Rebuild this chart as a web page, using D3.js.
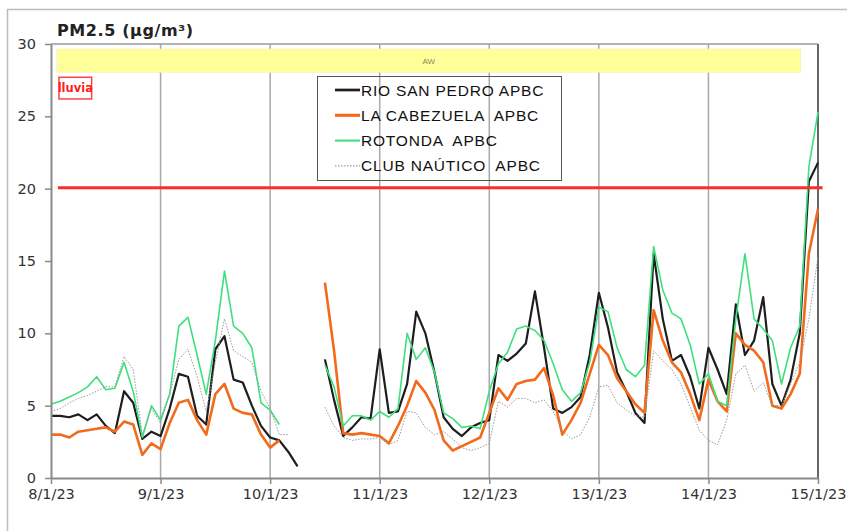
<!DOCTYPE html>
<html>
<head>
<meta charset="utf-8">
<script src="https://cdn.jsdelivr.net/npm/d3@7"></script>
<style>
  body { margin: 0; background: #fff; }
  svg { display: block; }
  .tick-label { font-family: "DejaVu Sans", Verdana, sans-serif; font-size: 14.5px; fill: #333; }
  .legend-label { font-family: "Liberation Sans", Arial, sans-serif; font-size: 15.5px; letter-spacing: 0.8px; fill: #111; white-space: pre; }
</style>
</head>
<body>
<svg id="chart" width="847" height="531"></svg>
<script>
// hours since 8/1/23 00:00, one reading every 2 h
var hours = d3.range(0, 169, 2);
var dayLabels = ["8/1/23", "9/1/23", "10/1/23", "11/1/23", "12/1/23", "13/1/23", "14/1/23", "15/1/23"];
var yTicks = [0, 5, 10, 15, 20, 25, 30];
var limitValue = 20;

var rioSanPedro = [
  4.3, 4.3, 4.2, 4.4, 4.0, 4.4, 3.6, 3.1, 6.0, 5.2, 2.7, 3.2, 2.9,
  4.8, 7.2, 7.0, 4.3, 3.7, 8.9, 9.8, 6.8, 6.6, 5.0, 3.6, 2.8,
  2.6, 1.8, 0.8, null, null, 8.2, 5.4, 2.9, 3.5, 4.2, 4.1, 8.9,
  4.5, 4.6, 6.5, 11.5, 10.0, 7.3, 4.2, 3.4, 2.9, 3.5, 3.8, 4.0,
  8.5, 8.1, 8.6, 9.3, 12.9, 9.0, 4.8, 4.5, 4.9, 5.6, 8.5, 12.8,
  10.4, 7.3, 6.0, 4.5, 3.8, 15.5, 11.0, 8.1, 8.5, 7.0, 4.8, 9.0,
  7.5, 5.8, 12.0, 8.5, 9.5, 12.5, 6.5, 5.0, 6.8, 10.0, 20.5, 21.8
];
var laCabezuela = [
  3.0, 3.0, 2.8, 3.2, 3.3, 3.4, 3.5, 3.2, 3.9, 3.7, 1.6, 2.4, 2.0,
  3.8, 5.2, 5.4, 4.0, 3.0, 5.8, 6.5, 4.8, 4.5, 4.4, 3.0, 2.1,
  2.6, null, null, null, null, 13.5, 8.8, 3.1, 3.0, 3.1, 3.0, 2.9,
  2.4, 3.6, 5.0, 6.7, 5.9, 4.7, 2.6, 1.9, 2.2, 2.5, 2.8, 4.5,
  6.2, 5.4, 6.5, 6.7, 6.8, 7.6, 5.7, 3.0, 4.0, 5.2, 7.2, 9.2,
  8.5, 6.9, 6.0, 5.1, 4.5, 11.6, 9.5, 8.0, 7.3, 5.8, 4.0, 6.8,
  5.3, 4.6, 10.0, 9.2, 8.8, 8.0, 5.0, 4.8, 5.8, 7.2, 15.5, 18.6
];
var rotonda = [
  5.1, 5.3, 5.6, 5.9, 6.3, 7.0, 6.1, 6.2, 8.0, 6.0, 2.8, 5.0, 4.0,
  5.8, 10.5, 11.1, 8.5, 5.8, 9.5, 14.3, 10.5, 10.0, 9.0, 5.2, 4.7,
  3.7, null, null, null, null, 7.8, 6.3, 3.6, 4.3, 4.3, 4.0, 4.6,
  4.2, 4.8, 10.0, 8.2, 9.0, 7.3, 4.5, 4.1, 3.5, 3.6, 3.4, 6.0,
  7.9, 8.7, 10.3, 10.5, 10.2, 9.5, 7.9, 6.1, 5.3, 5.9, 8.0, 11.8,
  11.5, 9.0, 7.5, 7.0, 7.8, 16.0, 13.0, 11.4, 11.0, 9.2, 6.5, 7.2,
  5.3, 5.0, 11.0, 15.5, 11.0, 10.3, 9.5, 6.5, 9.0, 10.5, 21.5, 25.3
];
var clubNautico = [
  4.6, 4.8, 5.2, 5.5, 5.7, 6.0, 6.3, 6.3, 8.4, 7.5, 3.0, 4.8, 3.8,
  5.8, 8.2, 8.9, 7.0, 4.6, 8.0, 11.0, 8.8, 8.4, 8.0, 6.0, 4.8,
  3.0, 3.0, null, null, null, 4.9, 3.6, 2.8, 2.6, 2.7, 2.7, 2.8,
  2.3, 2.6, 4.6, 4.5, 3.5, 3.0, 3.2, 2.7, 2.1, 1.9, 2.1, 2.4,
  5.3, 4.9, 5.5, 5.5, 5.2, 5.4, 4.6, 3.3, 2.7, 3.0, 4.2, 6.3,
  6.4, 5.2, 4.7, 4.3, 4.2, 8.8, 8.1, 7.5, 6.5, 4.9, 3.3, 2.6,
  2.3, 4.0, 7.2, 7.8, 6.0, 6.6, 5.0, 5.0, 6.5, 8.0, 11.0, 15.3
];

var series = [
  {name: "RIO SAN PEDRO APBC", values: rioSanPedro, color: "#1e1e1e", width: 2.2, dash: null},
  {name: "LA CABEZUELA  APBC", values: laCabezuela, color: "#f26a1b", width: 2.6, dash: null},
  {name: "ROTONDA  APBC", values: rotonda, color: "#3ee07e", width: 1.6, dash: null},
  {name: "CLUB NAÚTICO  APBC", values: clubNautico, color: "#9a9a9a", width: 1, dash: "1.5,1.5"}
];

var svg = d3.select("#chart");
var plot = {left: 51, right: 818, top: 44, bottom: 478};

var x = d3.scaleLinear().domain([0, 168]).range([plot.left, plot.right]);
var y = d3.scaleLinear().domain([0, 30]).range([plot.bottom, plot.top]);

//Outer frame
svg.append("rect")
  .attr("x", 7.5).attr("y", 9.5)
  .attr("width", 900).attr("height", 600)
  .style("fill", "none").style("stroke", "#bdbdbd").style("stroke-width", 1.5);

//Title
svg.append("text")
  .attr("x", 57).attr("y", 36)
  .style("font-family", "DejaVu Sans, Verdana, sans-serif")
  .style("font-weight", "bold")
  .style("font-size", "16px")
  .style("letter-spacing", "0.6px")
  .style("fill", "#222")
  .text("PM2.5 (µg/m³)");

//Vertical day gridlines
svg.selectAll(".grid")
  .data(dayLabels.slice(1, -1))
  .enter().append("line")
  .attr("x1", function(d, i){ return x((i + 1) * 24); })
  .attr("x2", function(d, i){ return x((i + 1) * 24); })
  .attr("y1", plot.top).attr("y2", plot.bottom)
  .style("stroke", "#a8a8a8").style("stroke-width", 1.5);

//Plot frame: top, right
svg.append("line").attr("x1", plot.left).attr("x2", plot.right).attr("y1", plot.top).attr("y2", plot.top)
  .style("stroke", "#9a9a9a").style("stroke-width", 1.5);
svg.append("line").attr("x1", plot.right).attr("x2", plot.right).attr("y1", plot.top).attr("y2", plot.bottom)
  .style("stroke", "#666").style("stroke-width", 2);

//AW band
svg.append("rect")
  .attr("x", x(1.3)).attr("y", y(29.65))
  .attr("width", x(164.2) - x(1.3)).attr("height", y(28.05) - y(29.65))
  .style("fill", "#ffff99").style("stroke", "#f1f1c0").style("stroke-width", 0.8);
svg.append("text")
  .attr("x", (x(1.3) + x(164.2)) / 2).attr("y", y(28.85) + 3)
  .attr("text-anchor", "middle")
  .style("font-family", "Liberation Sans, Arial, sans-serif")
  .style("font-size", "8px").style("fill", "#8a8a50")
  .text("AW");

//lluvia box
svg.append("rect")
  .attr("x", x(1.75)).attr("y", y(27.7))
  .attr("width", x(8.9) - x(1.75)).attr("height", y(26.2) - y(27.7))
  .style("fill", "#fff").style("stroke", "#ff4040").style("stroke-width", 1.5);
svg.append("text")
  .attr("x", (x(1.75) + x(8.9)) / 2).attr("y", y(26.95) + 4)
  .attr("text-anchor", "middle")
  .style("font-family", "DejaVu Sans, Verdana, sans-serif")
  .style("font-weight", "bold").style("font-size", "11.5px")
  .style("fill", "#ff2020")
  .text("lluvia");

//Series lines
var line = d3.line()
  .defined(function(d){ return d.v !== null; })
  .x(function(d){ return x(d.h); })
  .y(function(d){ return y(d.v); });

series.forEach(function(s){
  var pts = hours.map(function(h, i){ return {h: h, v: s.values[i]}; });
  var p = svg.append("path")
    .datum(pts)
    .attr("d", line)
    .style("fill", "none")
    .style("stroke", s.color)
    .style("stroke-width", s.width)
    .style("stroke-linejoin", "round");
  if(s.dash) p.style("stroke-dasharray", s.dash);
});

//Limit line
svg.append("line")
  .attr("x1", x(1.5)).attr("x2", x(169))
  .attr("y1", y(limitValue) - 1).attr("y2", y(limitValue) - 1)
  .style("stroke", "#ff2b2b").style("stroke-width", 3);

//Axes
var xAxis = d3.axisBottom(x)
  .tickValues(dayLabels.map(function(d, i){ return i * 24; }))
  .tickFormat(function(d){ return dayLabels[d / 24]; })
  .tickSize(6).tickSizeOuter(0);
var gx = svg.append("g").attr("transform", "translate(0," + plot.bottom + ")").call(xAxis);
gx.select(".domain").style("stroke", "#8a8a8a").style("stroke-width", 2);
gx.selectAll(".tick line").style("stroke", "#8a8a8a").style("stroke-width", 1.5);
gx.selectAll(".tick text").attr("class", "tick-label").attr("dy", "1.05em").attr("y", 6);

var yAxis = d3.axisLeft(y).tickValues(yTicks).tickSize(6).tickSizeOuter(0).tickPadding(9);
var gy = svg.append("g").attr("transform", "translate(" + plot.left + ",0)").call(yAxis);
gy.select(".domain").style("stroke", "#8a8a8a").style("stroke-width", 2);
gy.selectAll(".tick line").style("stroke", "#8a8a8a").style("stroke-width", 1.5);
gy.selectAll(".tick text").attr("class", "tick-label");

//Legend
var legend = svg.append("g").attr("transform", "translate(" + 317 + "," + 76 + ")");
legend.append("rect")
  .attr("x", 0.5).attr("y", 0.5).attr("width", 244).attr("height", 104)
  .style("fill", "none").style("stroke", "#555").style("stroke-width", 1);
series.forEach(function(s, i){
  var ly = 14 + i * 25.3;
  var l = legend.append("line")
    .attr("x1", 18).attr("x2", 43).attr("y1", ly).attr("y2", ly)
    .style("stroke", s.color).style("stroke-width", s.dash ? 1.2 : s.width + 0.5);
  if(s.dash) l.style("stroke-dasharray", s.dash);
  legend.append("text")
    .attr("class", "legend-label")
    .attr("x", 44).attr("y", ly + 5.5)
    .text(s.name);
});
</script>
</body>
</html>
